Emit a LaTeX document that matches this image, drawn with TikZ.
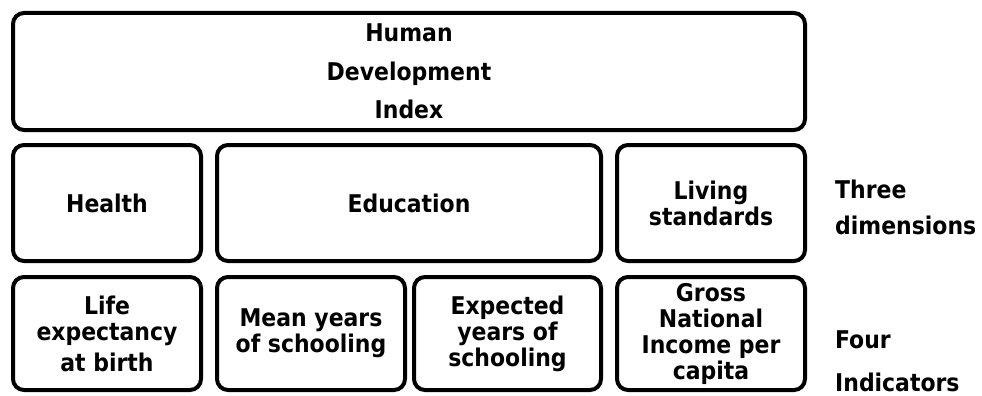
\documentclass[tikz,border=0pt]{standalone}
\usepackage{fontspec}
\setmainfont{DejaVu Sans Condensed}
\newcommand{\boxfont}[1]{\fontsize{24.4}{#1}\selectfont\bfseries}
\begin{document}
\begin{tikzpicture}[x=1pt,y=-1pt,
  box/.style={draw=black,line width=4pt,rounded corners=11pt,inner sep=0pt,
    align=center,font=\boxfont{26}},
  sidelabel/.style={anchor=west,align=left,inner sep=0pt,font=\boxfont{36}}]
\useasboundingbox (0,0) rectangle (982,396);
\node[box,minimum width=792pt,minimum height=117pt,font=\boxfont{38.5}] (hdi) at (409,71.5)
  {Human\\Development\\Index};
\node[box,minimum width=188pt,minimum height=116pt] (health) at (107,203) {Health};
\node[box,minimum width=384pt,minimum height=116pt] (edu) at (409,203) {Education};
\node[box,minimum width=188pt,minimum height=116pt] (living) at (711,203) {Living\\standards};
\node[box,minimum width=188pt,minimum height=113pt] (life) at (107,333.5) {Life\\expectancy\\[5pt]at birth};
\node[box,minimum width=188pt,minimum height=113pt] (mean) at (311,333.5) {Mean years\\of schooling};
\node[box,minimum width=187pt,minimum height=113pt] (exp) at (507.5,333.5) {Expected\\years of\\schooling};
\node[box,minimum width=188pt,minimum height=113pt] (gni) at (711,333.5) {Gross\\National\\Income per\\capita};
\node[sidelabel] (three) at (835,207) {Three\\dimensions};
\node[sidelabel,font=\boxfont{43}] (four) at (835,361) {Four\\Indicators};
\end{tikzpicture}
\end{document}
